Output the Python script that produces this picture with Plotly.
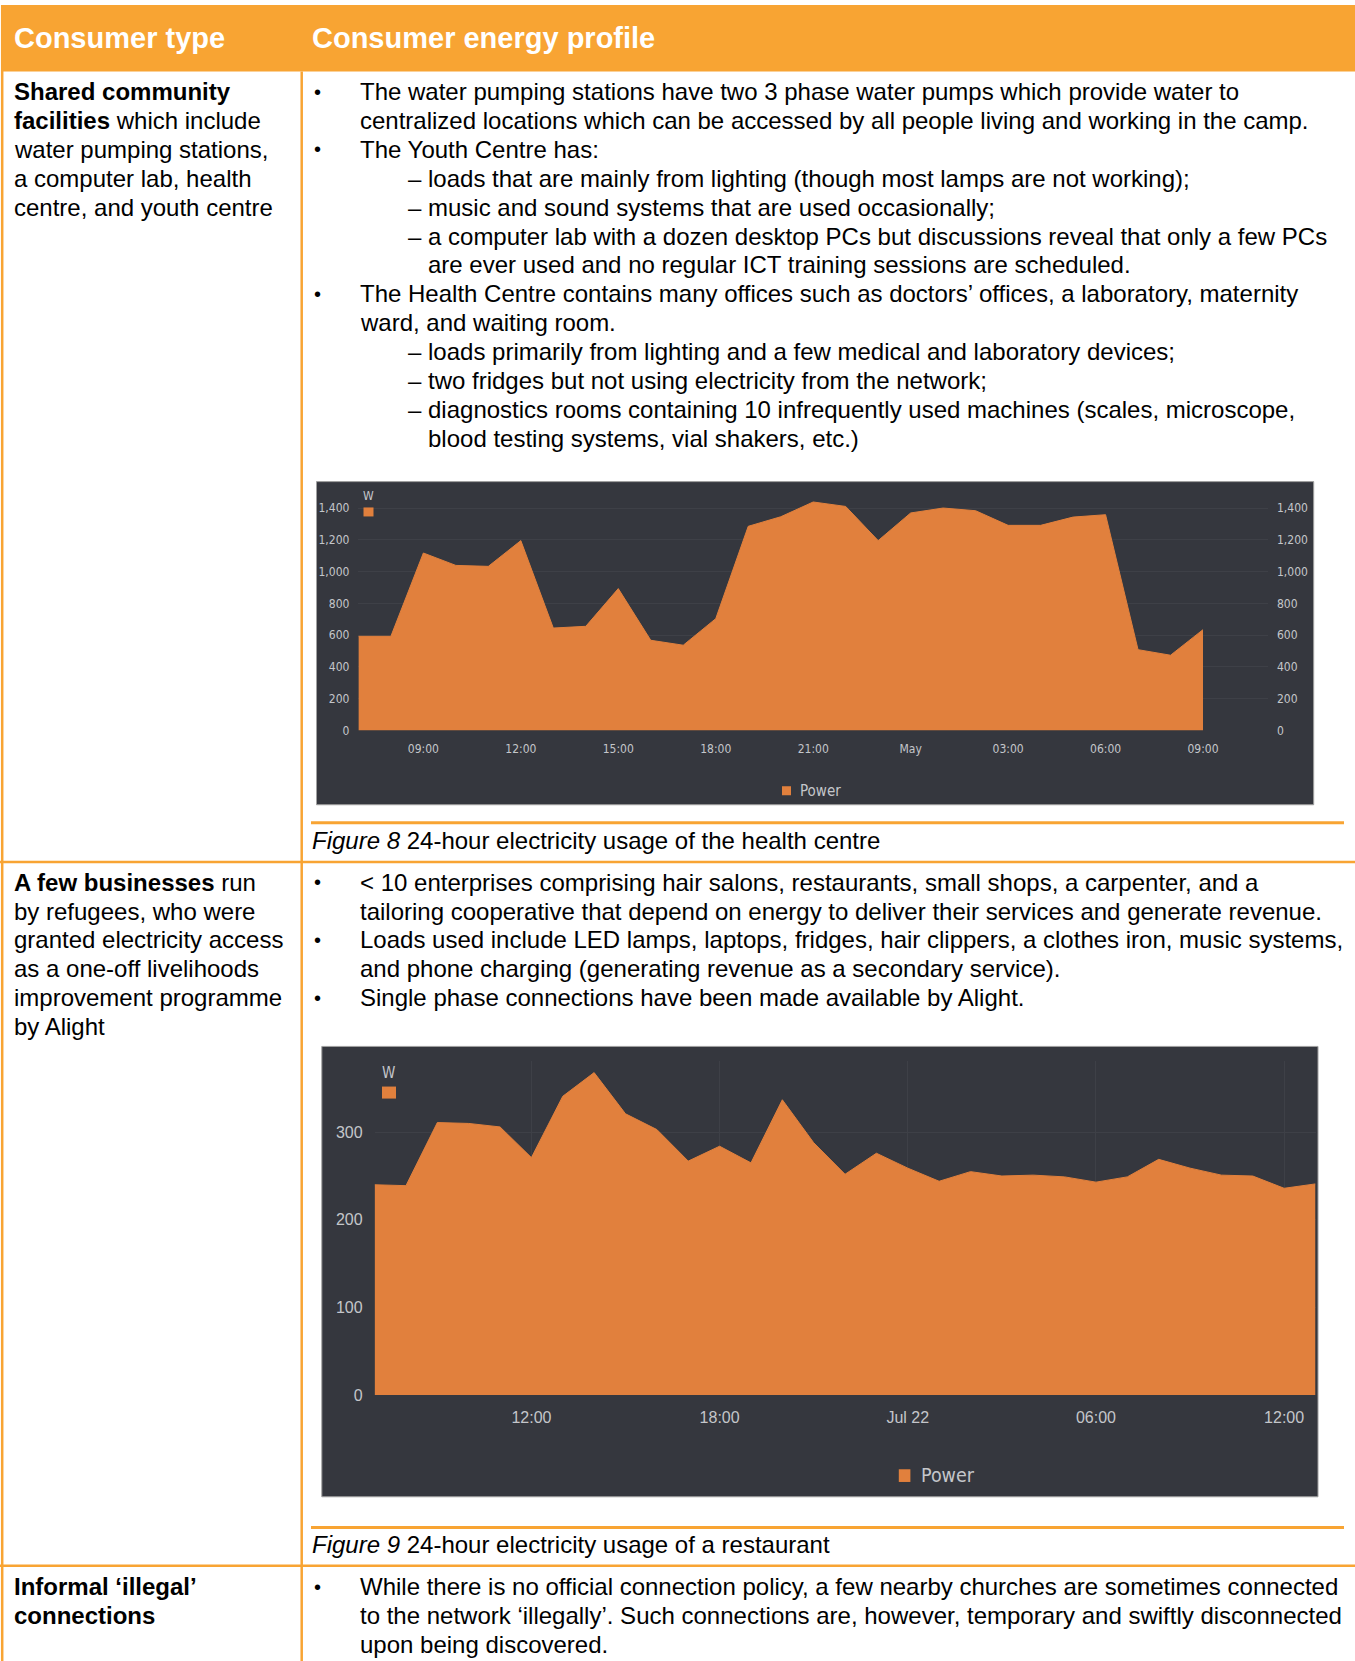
import pandas as pd
import plotly.graph_objects as go

# ---------------- data ----------------
health_start = "2019-04-30 07:00"
health_power = [593, 593, 1117, 1039, 1033, 1195, 645, 656, 893, 568, 537, 704,
                1285, 1345, 1438, 1410, 1195, 1369, 1400, 1383, 1291, 1291, 1343,
                1358, 509, 474, 635]
health_tickvals = ["2019-04-30 09:00", "2019-04-30 12:00", "2019-04-30 15:00",
                   "2019-04-30 18:00", "2019-04-30 21:00", "2019-05-01 00:00",
                   "2019-05-01 03:00", "2019-05-01 06:00", "2019-05-01 09:00"]
health_ticktext = ["09:00", "12:00", "15:00", "18:00", "21:00", "May",
                   "03:00", "06:00", "09:00"]
health_yticks = [0, 200, 400, 600, 800, 1000, 1200, 1400]

rest_start = "2019-07-21 07:00"
rest_power = [240, 239, 311, 310, 306, 271, 341, 368, 321, 303, 267, 284, 265,
              337, 288, 252, 276, 259, 244, 255, 250, 251, 249, 243, 249, 269,
              259, 251, 250, 236, 241]
rest_tickvals = ["2019-07-21 12:00", "2019-07-21 18:00", "2019-07-22 00:00",
                 "2019-07-22 06:00", "2019-07-22 12:00"]
rest_ticktext = ["12:00", "18:00", "Jul 22", "06:00", "12:00"]
rest_yticks = [0, 100, 200, 300]

header_texts = ["Consumer type", "Consumer energy profile"]

row1_left = ["<b>Shared community</b>", "<b>facilities</b> which include",
             "water pumping stations,", "a computer lab, health",
             "centre, and youth centre"]
row1_right = [
    ("b", "The water pumping stations have two 3 phase water pumps which provide water to"),
    ("c", "centralized locations which can be accessed by all people living and working in the camp."),
    ("b", "The Youth Centre has:"),
    ("d", "– loads that are mainly from lighting (though most lamps are not working);"),
    ("d", "– music and sound systems that are used occasionally;"),
    ("d", "– a computer lab with a dozen desktop PCs but discussions reveal that only a few PCs"),
    ("e", "are ever used and no regular ICT training sessions are scheduled."),
    ("b", "The Health Centre contains many offices such as doctors’ offices, a laboratory, maternity"),
    ("c", "ward, and waiting room."),
    ("d", "– loads primarily from lighting and a few medical and laboratory devices;"),
    ("d", "– two fridges but not using electricity from the network;"),
    ("d", "– diagnostics rooms containing 10 infrequently used machines (scales, microscope,"),
    ("e", "blood testing systems, vial shakers, etc.)"),
]
caption1 = "<i>Figure 8</i> 24-hour electricity usage of the health centre"

row2_left = ["<b>A few businesses</b> run", "by refugees, who were",
             "granted electricity access", "as a one-off livelihoods",
             "improvement programme", "by Alight"]
row2_right = [
    ("b", "&lt; 10 enterprises comprising hair salons, restaurants, small shops, a carpenter, and a"),
    ("c", "tailoring cooperative that depend on energy to deliver their services and generate revenue."),
    ("b", "Loads used include LED lamps, laptops, fridges, hair clippers, a clothes iron, music systems,"),
    ("c", "and phone charging (generating revenue as a secondary service)."),
    ("b", "Single phase connections have been made available by Alight."),
]
caption2 = "<i>Figure 9</i> 24-hour electricity usage of a restaurant"

row3_left = ["<b>Informal ‘illegal’</b>", "<b>connections</b>"]
row3_right = [
    ("b", "While there is no official connection policy, a few nearby churches are sometimes connected"),
    ("c", "to the network ‘illegally’. Such connections are, however, temporary and swiftly disconnected"),
    ("c", "upon being discovered."),
]

# ---------------- styling ----------------
W, H = 1355, 1661
TABLE_ORANGE = "#F8A433"
FILL_ORANGE = "#E1803D"
DARK = "#35373E"
GRID = "#3E4047"
TICK = "#C4C6CA"
BODY_FONT = "Liberation Sans, Arial, sans-serif"
NARROW_FONT = "Liberation Sans Narrow, Arial Narrow, DejaVu Sans Condensed, sans-serif"


def px(x):
    return x / W


def py(y):
    y = 90 + (y - 90) * 1.0065
    return 1 - y / H


annotations = []
shapes = []


def text(x, y, s, size=24, color="black", family=BODY_FONT, xanchor="left"):
    annotations.append(dict(x=px(x), y=py(y), xref="paper", yref="paper",
                            text=s, showarrow=False, xanchor=xanchor,
                            yanchor="middle", align="left",
                            font=dict(size=size, color=color, family=family)))


def rect(x0, y0, x1, y1, fill, line_color=None, line_width=0, layer="below"):
    shapes.append(dict(type="rect", xref="paper", yref="paper",
                       x0=px(x0), x1=px(x1), y0=py(y1), y1=py(y0),
                       fillcolor=fill, layer=layer,
                       line=dict(color=line_color or fill, width=line_width)))


def hline(x0, x1, y, color=TABLE_ORANGE, width=2.5):
    shapes.append(dict(type="line", xref="paper", yref="paper",
                       x0=px(x0), x1=px(x1), y0=py(y), y1=py(y),
                       line=dict(color=color, width=width), layer="below"))


def vline(x, y0, y1, color=TABLE_ORANGE, width=2.5):
    shapes.append(dict(type="line", xref="paper", yref="paper",
                       x0=px(x), x1=px(x), y0=py(y0), y1=py(y1),
                       line=dict(color=color, width=width), layer="below"))


# ---------------- table ----------------
rect(2, 5.5, W, 72, TABLE_ORANGE)
text(11.5, 38.5, "<b>" + header_texts[0] + "</b>", size=29, color="white")
text(309.5, 38.5, "<b>" + header_texts[1] + "</b>", size=29, color="white")

vline(2.2, 5.5, H)
vline(301.7, 72, H)
hline(0, W, 861.7)
hline(0, W, 1564.6)
hline(311, 1344, 822.5, width=3)
hline(311, 1344, 1526.5, width=3)

STEP = 28.85
X_LEFT, X_BUL, X_TXT, X_DASH, X_DASH2 = 11.5, 312.0, 357.5, 405.6, 425.7


def fill_rows(left, right, y0):
    for i, s in enumerate(left):
        text(X_LEFT, y0 + i * STEP, s)
    for i, (kind, s) in enumerate(right):
        y = y0 + i * STEP
        if kind == "b":
            text(X_BUL, y, "•", size=20)
            text(X_TXT, y, s)
        elif kind == "c":
            text(X_TXT, y, s)
        elif kind == "d":
            text(X_DASH, y, s)
        else:
            text(X_DASH2, y, s)


fill_rows(row1_left, row1_right, 92.1)
fill_rows(row2_left, row2_right, 881.8)
fill_rows(row3_left, row3_right, 1585.8)
text(309.5, 840.5, caption1)
text(309.5, 1543.4, caption2)

# ---------------- chart backgrounds ----------------
rect(316.5, 481.7, 1313.7, 804.5, DARK, "#A0A0A0", 1)
rect(321.8, 1045.9, 1318, 1495.8, DARK, "#A0A0A0", 1)

# chart 1 decorations (unit label + legend)
text(368.5, 496.5, "W", size=12, color=TICK, family=NARROW_FONT, xanchor="center")
rect(363.5, 507.5, 373.5, 516.5, FILL_ORANGE, layer="above")
rect(782, 786, 791, 795, FILL_ORANGE, layer="above")
text(797.5, 790.8, "Power", size=15, color=TICK, family=NARROW_FONT)

# chart 2 decorations
text(388.5, 1072.4, "W", size=15, color=TICK, family=NARROW_FONT, xanchor="center")
rect(382, 1086, 396, 1098, FILL_ORANGE, layer="above")
rect(898.8, 1468.3, 910.4, 1481, FILL_ORANGE, layer="above")
text(918.5, 1474.6, "Power", size=19.5, color=TICK, family=NARROW_FONT)

# ---------------- traces ----------------
health_time = pd.date_range(health_start, periods=len(health_power), freq="h")
rest_time = pd.date_range(rest_start, periods=len(rest_power), freq="h")

fig = go.Figure()
fig.add_trace(go.Scatter(x=health_time, y=health_power, mode="lines",
                         fill="tozeroy", fillcolor=FILL_ORANGE,
                         line=dict(color=FILL_ORANGE, width=1),
                         xaxis="x", yaxis="y", hoverinfo="skip",
                         showlegend=False, name="Power"))
fig.add_trace(go.Scatter(x=health_time, y=health_power, mode="lines",
                         line=dict(width=0), opacity=0,
                         xaxis="x", yaxis="y3", hoverinfo="skip",
                         showlegend=False))
fig.add_trace(go.Scatter(x=rest_time, y=rest_power, mode="lines",
                         fill="tozeroy", fillcolor=FILL_ORANGE,
                         line=dict(color=FILL_ORANGE, width=1),
                         xaxis="x2", yaxis="y2", hoverinfo="skip",
                         showlegend=False, name="Power"))

tick1 = dict(size=12, color=TICK, family=NARROW_FONT)
tick2 = dict(size=16, color=TICK, family=BODY_FONT)

fig.update_layout(
    width=W, height=H, autosize=False,
    margin=dict(l=0, r=0, t=0, b=0, pad=0),
    paper_bgcolor="white", plot_bgcolor="rgba(0,0,0,0)",
    showlegend=False,
    xaxis=dict(domain=[px(358.4), px(1268)], anchor="y", type="date",
               range=["2019-04-30 07:00", "2019-05-01 11:00"],
               tickmode="array", tickvals=health_tickvals, ticktext=health_ticktext,
               showgrid=False, zeroline=False, showline=False, ticks="",
               ticklabelstandoff=9, tickfont=tick1),
    yaxis=dict(domain=[py(730.4), py(492.2)], anchor="x", range=[0, 1500],
               tickmode="array", tickvals=health_yticks, tickformat=",",
               showgrid=True, gridcolor=GRID, gridwidth=1, zeroline=False,
               showline=False, ticks="", ticklabelstandoff=8, tickfont=tick1),
    yaxis3=dict(overlaying="y", side="right", anchor="x", range=[0, 1500],
                tickmode="array", tickvals=health_yticks, tickformat=",",
                showgrid=False, zeroline=False, showline=False, ticks="",
                ticklabelstandoff=8, tickfont=tick1),
    xaxis2=dict(domain=[px(374.6), px(1315.5)], anchor="y2", type="date",
                range=["2019-07-21 07:00", "2019-07-22 13:00"],
                tickmode="array", tickvals=rest_tickvals, ticktext=rest_ticktext,
                showgrid=True, gridcolor=GRID, gridwidth=1, zeroline=False,
                showline=False, ticks="", ticklabelstandoff=11, tickfont=tick2),
    yaxis2=dict(domain=[py(1394.2), py(1060.7)], anchor="x2", range=[0, 381],
                tickmode="array", tickvals=rest_yticks,
                showgrid=True, gridcolor=GRID, gridwidth=1, zeroline=False,
                showline=False, ticks="", ticklabelstandoff=11, tickfont=tick2),
    annotations=annotations,
    shapes=shapes,
)

# the page's default 8px body margin would shift the whole figure; remove it
fig.write_html("out.html",
               config={"displayModeBar": False},
               post_script="document.body.style.margin='0';"
                           "document.body.style.padding='0';")
